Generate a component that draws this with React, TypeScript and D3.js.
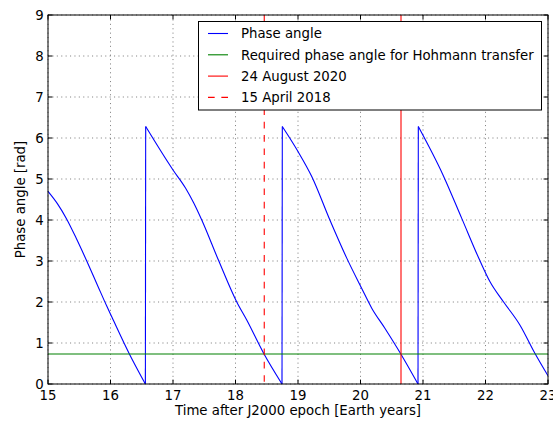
import React from "react";
import * as d3 from "d3";

// Time after J2000 epoch [Earth years] and the Earth–Mars phase angle [rad]
const years = [
  15.0, 15.15, 15.3, 15.45, 15.62, 15.8, 15.94, 16.02, 16.3, 16.558,
  16.563, 17.0, 17.2, 17.33, 17.46, 17.73, 18.02, 18.18, 18.45, 18.744,
  18.749, 19.0, 19.22, 19.51, 19.78, 20.02, 20.18, 20.39, 20.65, 20.92,
  20.925, 21.32, 21.62, 21.91, 22.07, 22.29, 22.55, 22.79, 23.0,
];
const phaseAngle = [
  4.7, 4.4, 4.02, 3.56, 3.0, 2.38, 1.9, 1.64, 0.74, 0.0,
  6.28, 5.22, 4.78, 4.42, 4.0, 3.01, 2.0, 1.56, 0.75, 0.0,
  6.28, 5.67, 5.06, 4.0, 3.07, 2.33, 1.85, 1.36, 0.72, 0.0,
  6.28, 5.1, 4.04, 3.01, 2.5, 2.0, 1.44, 0.75, 0.2,
];

const hohmannPhase = 0.73;
const dateAug2020 = 20.648;
const dateApr2018 = 18.46;

const xTicks = [15, 16, 17, 18, 19, 20, 21, 22, 23];
const yTicks = [0, 1, 2, 3, 4, 5, 6, 7, 8, 9];

const legendLabels = [
  "Phase angle",
  "Required phase angle for Hohmann transfer",
  "24 August 2020",
  "15 April 2018",
];

const W = 553;
const H = 421;
const left = 48;
const right = 548;
const top = 15;
const bottom = 384;
const FONT = "'DejaVu Sans', sans-serif";
const FS = 13.3;
const TICK = 4.4;

type Pt = [number, number];

export default function App() {
  const x = d3.scaleLinear().domain([15, 23]).range([left, right]);
  const y = d3.scaleLinear().domain([0, 9]).range([bottom, top]);

  // Split the wrapped angle into its decreasing runs; each run is smoothed,
  // and the 0 → 2π wrap is drawn as a straight vertical jump.
  const pts: Pt[] = years.map((t, i) => [t, phaseAngle[i]]);
  const runs: Pt[][] = [];
  pts.forEach((p, i) => {
    if (i === 0 || p[1] > pts[i - 1][1]) runs.push([p]);
    else runs[runs.length - 1].push(p);
  });

  const smooth = d3
    .line<Pt>()
    .x((d) => x(d[0]))
    .y((d) => y(d[1]))
    .curve(d3.curveMonotoneX);
  const straight = d3
    .line<Pt>()
    .x((d) => x(d[0]))
    .y((d) => y(d[1]));

  const jumps: Pt[][] = runs
    .slice(1)
    .map((r, i) => [runs[i][runs[i].length - 1], r[0]]);

  const legendColors = ["#0000ff", "#008000", "#ff0000", "#ff0000"];
  const legendDash = [undefined, undefined, undefined, "6.67,6.67"];
  const legendX = 198.5;
  const legendY = 21.5;
  const legendW = 343;
  const legendH = 88.5;
  const rowY = (i: number) => 33.5 + i * 21.3;

  return (
    <svg
      width={W}
      height={H}
      style={{ position: "absolute", left: 0, top: 0, background: "#fff" }}
      fontFamily={FONT}
    >
      <defs>
        <clipPath id="plot-area">
          <rect x={left} y={top} width={right - left} height={bottom - top} />
        </clipPath>
      </defs>
      <rect x={0} y={0} width={W} height={H} fill="#fff" />

      {/* grid */}
      <g stroke="#000" strokeWidth={0.6} strokeDasharray="1.1,3.3" opacity={0.8}>
        {xTicks.map((t) => (
          <line key={"gx" + t} x1={x(t)} x2={x(t)} y1={top} y2={bottom} />
        ))}
        {yTicks.map((t) => (
          <line key={"gy" + t} x1={left} x2={right} y1={y(t)} y2={y(t)} />
        ))}
      </g>

      <g clipPath="url(#plot-area)" fill="none">
        {runs.map((r, i) => (
          <path key={"run" + i} d={smooth(r) ?? ""} stroke="#0000ff" strokeWidth={1.1} />
        ))}
        {jumps.map((j, i) => (
          <path key={"jump" + i} d={straight(j) ?? ""} stroke="#0000ff" strokeWidth={1.1} />
        ))}
        <line
          x1={left}
          x2={right}
          y1={y(hohmannPhase)}
          y2={y(hohmannPhase)}
          stroke="#008000"
          strokeWidth={1.1}
        />
        <line
          x1={x(dateAug2020)}
          x2={x(dateAug2020)}
          y1={top}
          y2={bottom}
          stroke="#ff0000"
          strokeWidth={1.1}
        />
        <line
          x1={x(dateApr2018)}
          x2={x(dateApr2018)}
          y1={top}
          y2={bottom}
          stroke="#ff0000"
          strokeWidth={1.1}
          strokeDasharray="6.67,6.67"
        />
      </g>

      {/* ticks on all four sides, pointing inward */}
      <g stroke="#000" strokeWidth={1}>
        {xTicks.map((t) => (
          <g key={"tx" + t}>
            <line x1={x(t)} x2={x(t)} y1={bottom} y2={bottom - TICK} />
            <line x1={x(t)} x2={x(t)} y1={top} y2={top + TICK} />
          </g>
        ))}
        {yTicks.map((t) => (
          <g key={"ty" + t}>
            <line x1={left} x2={left + TICK} y1={y(t)} y2={y(t)} />
            <line x1={right} x2={right - TICK} y1={y(t)} y2={y(t)} />
          </g>
        ))}
      </g>

      <rect
        x={left}
        y={top}
        width={right - left}
        height={bottom - top}
        fill="none"
        stroke="#000"
        strokeWidth={1}
      />

      {/* tick labels */}
      <g fontSize={FS} fill="#000">
        {xTicks.map((t) => (
          <text key={"lx" + t} x={x(t)} y={399.5} textAnchor="middle">
            {t}
          </text>
        ))}
        {yTicks.map((t) => (
          <text
            key={"ly" + t}
            x={left - TICK}
            y={y(t) + 4.8}
            textAnchor="end"
          >
            {t}
          </text>
        ))}
      </g>

      {/* axis labels */}
      <text
        x={(left + right) / 2}
        y={415}
        textAnchor="middle"
        fontSize={FS}
        fill="#000"
      >
        Time after J2000 epoch [Earth years]
      </text>
      <text
        transform={`translate(25,${(top + bottom) / 2}) rotate(-90)`}
        textAnchor="middle"
        fontSize={FS}
        fill="#000"
      >
        Phase angle [rad]
      </text>

      {/* legend */}
      <rect
        x={legendX}
        y={legendY}
        width={legendW}
        height={legendH}
        fill="#fff"
        stroke="#000"
        strokeWidth={1}
      />
      {legendLabels.map((label, i) => (
        <g key={label}>
          <line
            x1={208}
            x2={228}
            y1={rowY(i)}
            y2={rowY(i)}
            stroke={legendColors[i]}
            strokeWidth={1.1}
            strokeDasharray={legendDash[i]}
          />
          <text x={241} y={rowY(i) + 4.8} fontSize={FS} fill="#000">
            {label}
          </text>
        </g>
      ))}
    </svg>
  );
}
